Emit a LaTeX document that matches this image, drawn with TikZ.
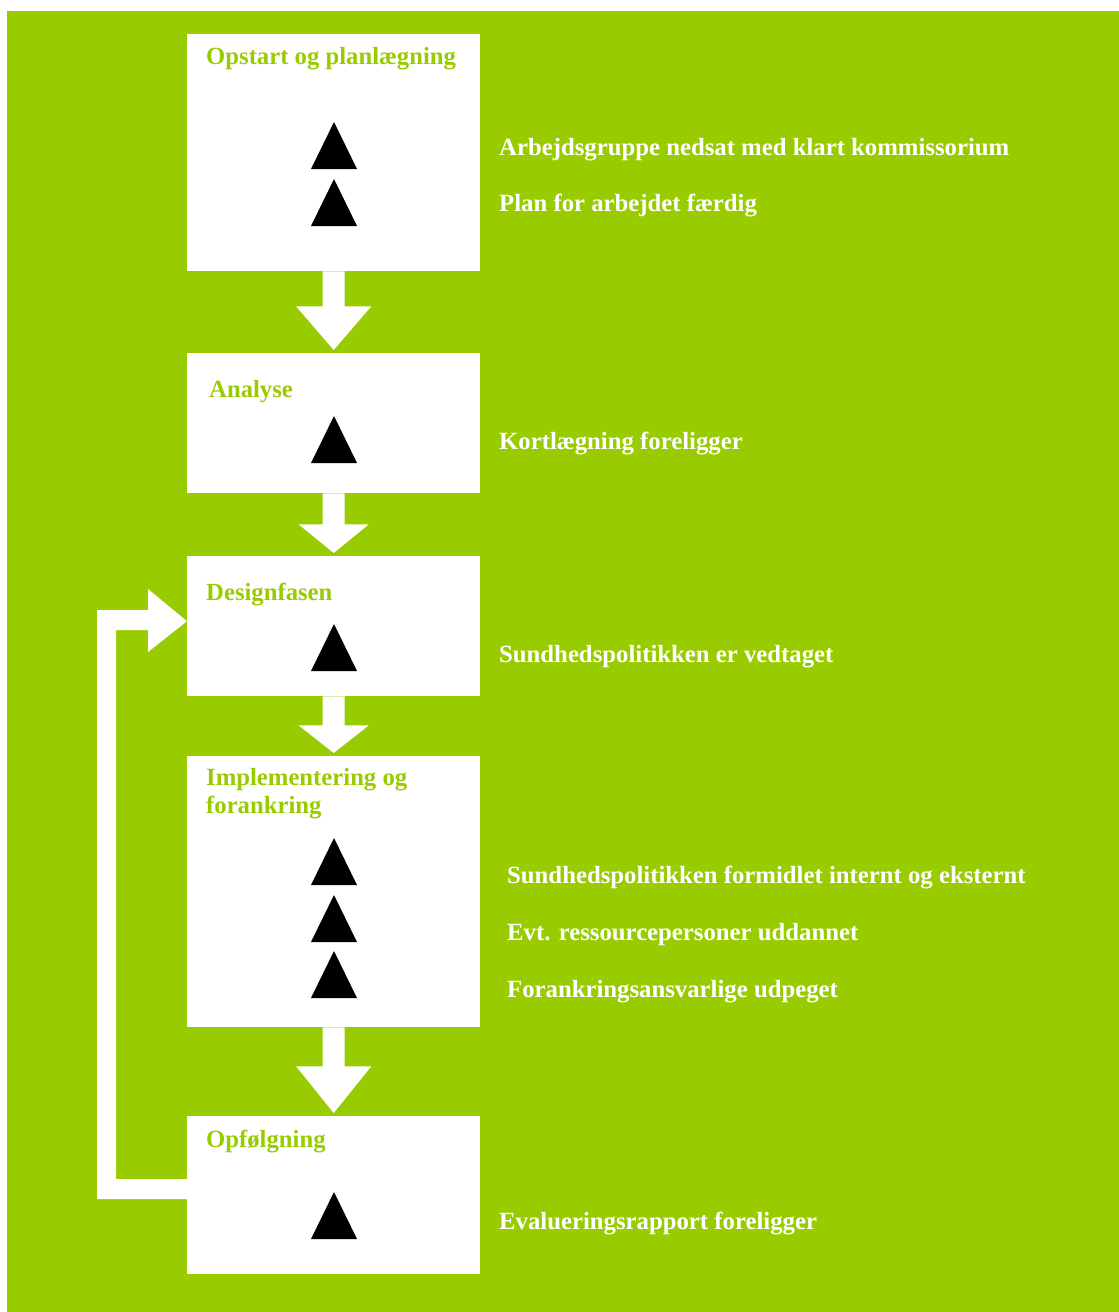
\documentclass[tikz,border=0pt]{standalone}
\usepackage{fontspec}
\setmainfont{Liberation Serif}
\usetikzlibrary{calc}
\definecolor{bg}{HTML}{99CC00}
\newcommand\darrow[5]{% from node, to node, shaft length, shaft half, head half
  \fill[white] ($(#1.south)+(-#4,0)$) -- ($(#1.south)+(-#4,#3)$) -- ($(#1.south)+(-#5,#3)$)
    -- ($(#2.north)+(0,-3)$) -- ($(#1.south)+(#5,#3)$) -- ($(#1.south)+(#4,#3)$) -- ($(#1.south)+(#4,0)$) -- cycle;}
\newcommand\mytri[2]{\fill[black] (#1-23,#2) -- (#1+23,#2) -- (#1,#2-47) -- cycle;}
\begin{document}
\begin{tikzpicture}[x=1pt,y=-1pt,
  box/.style={fill=white, draw=none, inner sep=0, anchor=north west, minimum width=293pt},
  title/.style={anchor=base west, inner sep=0, text=bg, font=\bfseries\fontsize{24.7}{28}\selectfont, align=left},
  item/.style={anchor=base west, inner sep=0, text=white, font=\bfseries\fontsize{24.75}{30}\selectfont}]
\useasboundingbox (0,0) rectangle (1119,1312);
\fill[bg] (7,11) rectangle (1119,1312);
% boxes
\node[box, minimum height=237pt] (b1) at (187,34) {};
\node[box, minimum height=140pt] (b2) at (187,353) {};
\node[box, minimum height=140pt] (b3) at (187,556) {};
\node[box, minimum height=271pt] (b4) at (187,756) {};
\node[box, minimum height=158pt] (b5) at (187,1116) {};
% block arrows
\darrow{b1}{b2}{35}{11}{37.5}
\darrow{b2}{b3}{31}{11}{35}
\darrow{b3}{b4}{29}{11}{35}
\darrow{b4}{b5}{39}{11}{37.5}
% feedback arrow
\fill[white] ($(b5.north west)+(0,63)$) -- (116,1179) -- (116,630) -- (148,630) -- (148,652)
  -- ($(b3.west)+(0,-5)$) -- (148,589) -- (148,610) -- (97,610) -- (97,1199) -- ($(b5.north west)+(0,83)$) -- cycle;
% titles
\node[title] (t1) at (206,64) {Opstart og planlægning};
\node[title] (t2) at (209,397) {Analyse};
\node[title] (t3) at (206,600) {Designfasen};
\node[title] (t4) at (206,813) {Implementering og\\forankring};
\node[title] (t5) at (206,1147) {Opfølgning};
% triangles
\mytri{334}{169}
\mytri{334}{226}
\mytri{334}{463}
\mytri{334}{671}
\mytri{334}{885}
\mytri{334}{942}
\mytri{334}{998}
\mytri{334}{1239}
% items
\node[item] (i1) at (499,155) {Arbejdsgruppe nedsat med klart kommissorium};
\node[item] (i2) at (499,211) {Plan for arbejdet færdig};
\node[item] (i3) at (499,449) {Kortlægning foreligger};
\node[item] (i4) at (499,662) {Sundhedspolitikken er vedtaget};
\node[item] (i5) at (507,883) {Sundhedspolitikken formidlet internt og eksternt};
\node[item] (i6) at (507,940) {Evt. ressourcepersoner uddannet};
\node[item] (i7) at (507,997) {Forankringsansvarlige udpeget};
\node[item] (i8) at (499,1229) {Evalueringsrapport foreligger};
\end{tikzpicture}
\end{document}
